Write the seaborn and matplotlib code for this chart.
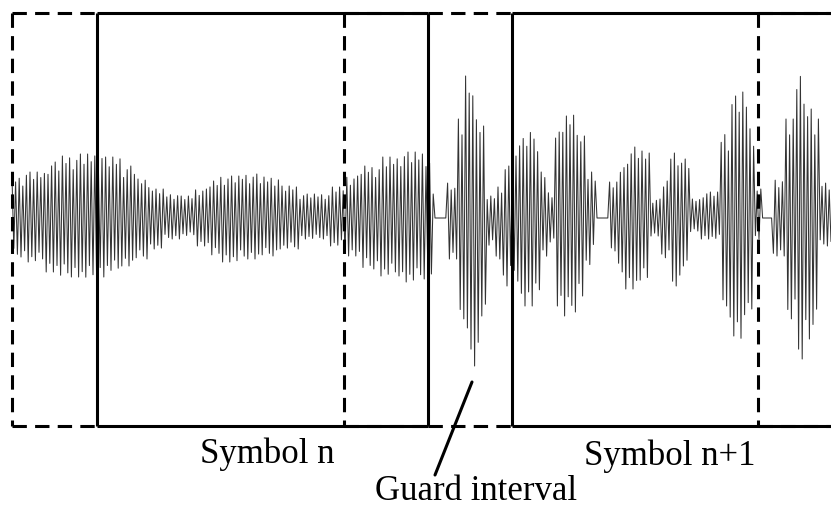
"""OFDM time signal with symbol frames and cyclic-prefix guard intervals."""

import matplotlib
matplotlib.use("Agg")
import matplotlib.pyplot as plt
import numpy as np
import pandas as pd
import seaborn as sns


# envelope of the waveform: time knot, upper and lower amplitude
ENV_T = [12, 25, 45, 60, 80, 95, 105, 120, 135, 150, 165, 180, 195, 210, 220,
         240, 260, 280, 300, 315, 330, 345, 360, 380, 400, 420, 428, 432, 435,
         446, 452, 458, 465, 472, 480, 487, 495, 503, 510, 517, 525, 533, 540,
         548, 555, 562, 570, 578, 585, 592, 597, 608, 618, 625, 632, 640, 650,
         660, 670, 680, 690, 700, 710, 720, 730, 738, 747, 755, 762, 773, 785,
         795, 805, 813, 820, 831]
ENV_UP = [41, 46, 56, 62, 64, 64, 61, 52, 39, 29, 24, 22, 29, 37, 42,
          44, 41, 32, 24, 24, 31, 42, 52, 61, 66, 66, 59, 24, 0,
          36, 32, 99, 142, 126, 92, 22, 32, 52, 62, 82, 92, 79, 46,
          26, 86, 102, 106, 82, 46, 42, 0, 36, 52, 69, 71, 67, 19,
          37, 67, 59, 19, 26, 26, 86, 122, 126, 92, 29, 0, 39, 99,
          146, 109, 99, 36, 36]
ENV_DN = [39, 44, 54, 59, 61, 59, 54, 48, 41, 31, 21, 18, 28, 38, 44,
          41, 38, 31, 21, 21, 28, 38, 51, 58, 64, 61, 56, 30, 0,
          41, 41, 104, 141, 148, 98, 28, 41, 68, 54, 81, 88, 74, 41,
          24, 88, 101, 94, 78, 48, 34, 0, 34, 58, 71, 71, 64, 18,
          41, 68, 48, 14, 21, 21, 88, 118, 124, 91, 21, 0, 38, 104,
          141, 121, 94, 28, 38]

LABEL_SYMBOLS = ["Symbol n", "Symbol n+1"]
LABEL_GUARD = "Guard interval"

# drawing constants
STEP = 1.8                      # spacing of the carrier zig-zag
TEXTURE = [1.0, 0.88, 0.97, 0.78, 0.93, 1.0, 0.84]
TOP, BOTTOM = 205, -208
LW = 2.2
DASH = (0, (4.7, 2.7))

sns.set_style("white")
plt.rcParams["font.family"] = ["Liberation Serif", "DejaVu Serif"]

fig = plt.figure(figsize=(8.31, 5.10), dpi=100)
ax = fig.add_axes([0, 0, 1, 1])

# carrier drawn as a zig-zag between the upper and lower envelope
t_knots = np.asarray(ENV_T, dtype=float)
n_tex = len(TEXTURE)
ts, ys = [], []
t, k = t_knots[0], 0
while t <= t_knots[-1]:
    i = min(np.searchsorted(t_knots, t, side="right") - 1, len(ENV_UP) - 1)
    if k % 2 == 0:
        val = ENV_UP[i] * TEXTURE[(k // 2) % n_tex]
    else:
        val = -ENV_DN[i] * TEXTURE[(k // 2 + 3) % n_tex]
    ts.append(t)
    ys.append(val)
    t += STEP
    k += 1
wave = pd.DataFrame({"t": ts, "y": ys})
sns.lineplot(data=wave, x="t", y="y", sort=False, estimator=None,
             color="#333333", linewidth=0.75, ax=ax)

# symbol frames (solid) and guard interval / prefix copies (dashed)
solid = dict(color="black", lw=LW, solid_capstyle="butt")
dashed = dict(color="black", lw=LW, linestyle=DASH, dash_capstyle="butt")

for x0, x1 in [(97, 428), (512, 840)]:
    ax.plot([x0, x1], [TOP, TOP], **solid)
    ax.plot([x0, x1], [BOTTOM, BOTTOM], **solid)
    ax.plot([x0, x0], [TOP, BOTTOM], **solid)
ax.plot([428, 428], [TOP, BOTTOM], **solid)

for x0, x1 in [(12, 97), (428, 512), (344, 428), (758, 840)]:
    ax.plot([x0, x1], [TOP, TOP], **dashed)
    ax.plot([x0, x1], [BOTTOM, BOTTOM], **dashed)
for x in [12, 344, 758]:
    ax.plot([x, x], [TOP, BOTTOM], **dashed)

# labels
txt = dict(ha="center", va="baseline", fontsize=25, color="black")
ax.text(267, -244, LABEL_SYMBOLS[0], **txt)
ax.text(670, -246, LABEL_SYMBOLS[1], **txt)
ax.text(476, -281, LABEL_GUARD, **txt)
ax.plot([472, 435], [-164, -257], color="black", lw=LW)

ax.set_xlim(0, 831)
ax.set_ylim(-291, 219)
ax.axis("off")

fig.savefig("out.png", dpi=100)
plt.close(fig)
